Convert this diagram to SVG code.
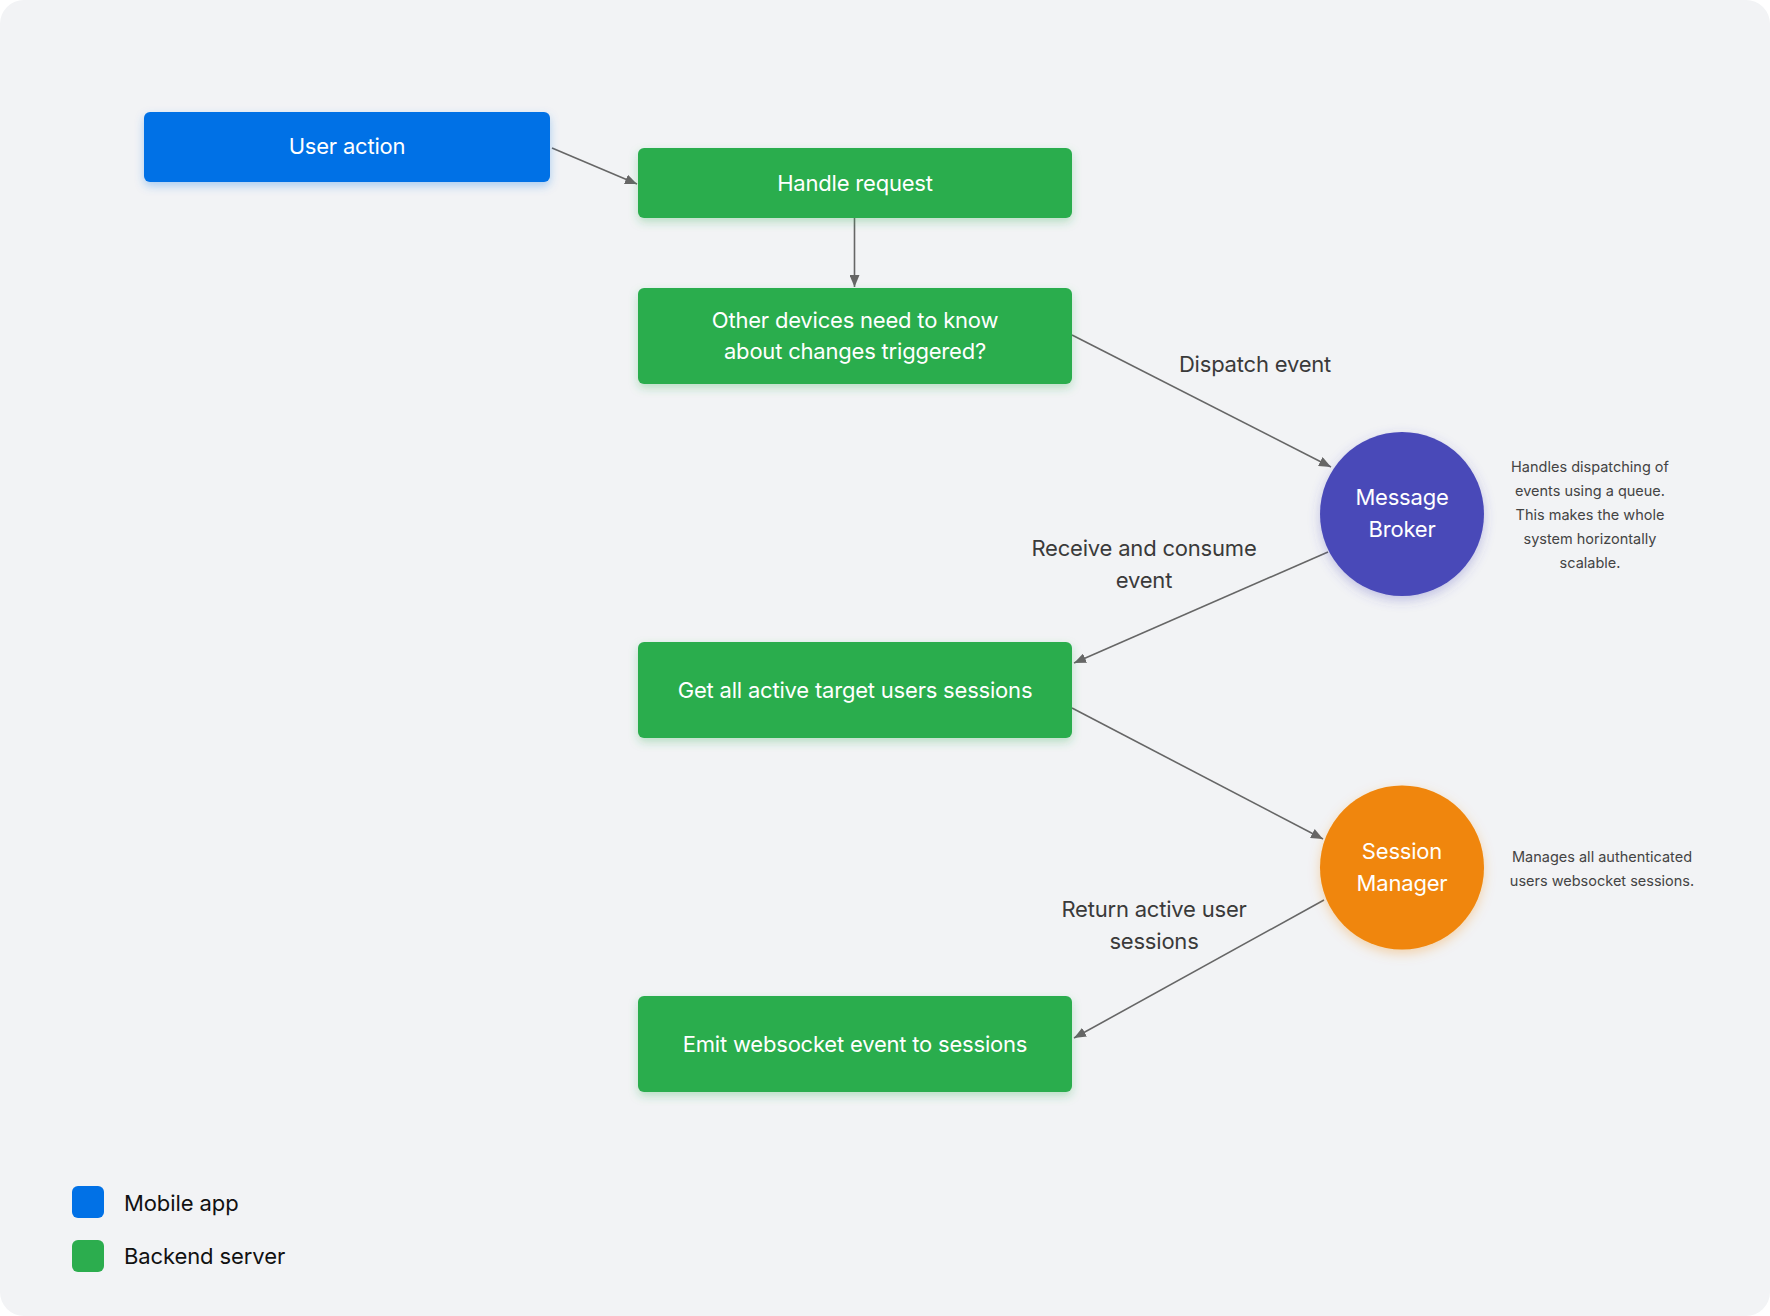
<svg xmlns="http://www.w3.org/2000/svg" width="1770" height="1316" viewBox="0 0 1770 1316">
<style>
.box{stroke:none}
.lbl{font-family:Inter,"Noto Sans",sans-serif;font-size:22px;fill:#ffffff;text-anchor:middle;letter-spacing:-0.2px}
.edge{font-family:Inter,"Noto Sans",sans-serif;font-size:22px;fill:#3a3a3a;text-anchor:middle;letter-spacing:-0.2px}
.note{font-family:Inter,"Noto Sans",sans-serif;font-size:14.5px;fill:#444444;text-anchor:middle}
.leg{font-family:Inter,"Noto Sans",sans-serif;font-size:22px;fill:#111111;letter-spacing:-0.1px}
.conn{stroke:#666666;stroke-width:1.6;fill:none;marker-end:url(#ah)}
</style>
<defs>
<marker id="ah" viewBox="0 0 12 10" refX="12" refY="5" markerWidth="12" markerHeight="10" markerUnits="userSpaceOnUse" orient="auto">
<path d="M0,0 L12,5 L0,10 z" fill="#666666"/>
</marker>
<filter id="shB" x="-20%" y="-30%" width="140%" height="170%"><feDropShadow dx="0" dy="4" stdDeviation="5" flood-color="#0171E6" flood-opacity="0.3"/></filter>
<filter id="shG" x="-20%" y="-30%" width="140%" height="170%"><feDropShadow dx="0" dy="4" stdDeviation="5" flood-color="#2CAD4E" flood-opacity="0.3"/></filter>
<filter id="shP" x="-30%" y="-30%" width="160%" height="160%"><feDropShadow dx="0" dy="4" stdDeviation="6" flood-color="#4949B8" flood-opacity="0.3"/></filter>
<filter id="shO" x="-30%" y="-30%" width="160%" height="160%"><feDropShadow dx="0" dy="4" stdDeviation="6" flood-color="#F08609" flood-opacity="0.3"/></filter>
</defs>
<rect x="0" y="0" width="1770" height="1316" fill="#ffffff"/>
<rect x="0" y="0" width="1770" height="1316" rx="24" fill="#F2F3F5"/>

<g id="connectors">
<line class="conn" x1="552" y1="148" x2="637" y2="184"/>
<line class="conn" x1="854.5" y1="218" x2="854.5" y2="287"/>
<line class="conn" x1="1072" y1="335" x2="1331" y2="467"/>
<line class="conn" x1="1328" y1="552" x2="1074" y2="663"/>
<line class="conn" x1="1072" y1="708" x2="1323" y2="839"/>
<line class="conn" x1="1324" y1="900" x2="1074" y2="1038"/>
<text class="edge" x="1255" y="372">Dispatch event</text>
<text class="edge" x="1144" y="556">Receive and consume</text>
<text class="edge" x="1144" y="588">event</text>
<text class="edge" x="1154" y="917">Return active user</text>
<text class="edge" x="1154" y="949">sessions</text>
</g>

<g id="user-action">
<rect class="box" x="144" y="112" width="406" height="70" rx="6" fill="#0171E6" filter="url(#shB)"/>
<text class="lbl" x="347" y="154">User action</text>
</g>
<g id="handle-request">
<rect class="box" x="638" y="148" width="434" height="70" rx="6" fill="#2CAD4E" filter="url(#shG)"/>
<text class="lbl" x="855" y="190.5">Handle request</text>
</g>
<g id="other-devices">
<rect class="box" x="638" y="288" width="434" height="96" rx="6" fill="#2CAD4E" filter="url(#shG)"/>
<text class="lbl" x="855" y="327.5">Other devices need to know</text>
<text class="lbl" x="855" y="359">about changes triggered?</text>
</g>
<g id="get-sessions">
<rect class="box" x="638" y="642" width="434" height="96" rx="6" fill="#2CAD4E" filter="url(#shG)"/>
<text class="lbl" x="855" y="698">Get all active target users sessions</text>
</g>
<g id="emit-event">
<rect class="box" x="638" y="996" width="434" height="96" rx="6" fill="#2CAD4E" filter="url(#shG)"/>
<text class="lbl" x="855" y="1052">Emit websocket event to sessions</text>
</g>
<g id="message-broker">
<circle cx="1402" cy="514" r="82" fill="#4949B8" filter="url(#shP)"/>
<text class="lbl" x="1402" y="505">Message</text>
<text class="lbl" x="1402" y="537">Broker</text>
<text class="note" x="1590" y="472">Handles dispatching of</text>
<text class="note" x="1590" y="496">events using a queue.</text>
<text class="note" x="1590" y="520">This makes the whole</text>
<text class="note" x="1590" y="544">system horizontally</text>
<text class="note" x="1590" y="568">scalable.</text>
</g>
<g id="session-manager">
<circle cx="1402" cy="867.5" r="82" fill="#F08609" filter="url(#shO)"/>
<text class="lbl" x="1402" y="859">Session</text>
<text class="lbl" x="1402" y="891">Manager</text>
<text class="note" x="1602" y="862">Manages all authenticated</text>
<text class="note" x="1602" y="886">users websocket sessions.</text>
</g>
<g id="legend">
<rect x="72" y="1186" width="32" height="32" rx="6" fill="#0171E6"/>
<text class="leg" x="124" y="1211">Mobile app</text>
<rect x="72" y="1240" width="32" height="32" rx="6" fill="#2CAD4E"/>
<text class="leg" x="124" y="1264">Backend server</text>
</g>
</svg>
